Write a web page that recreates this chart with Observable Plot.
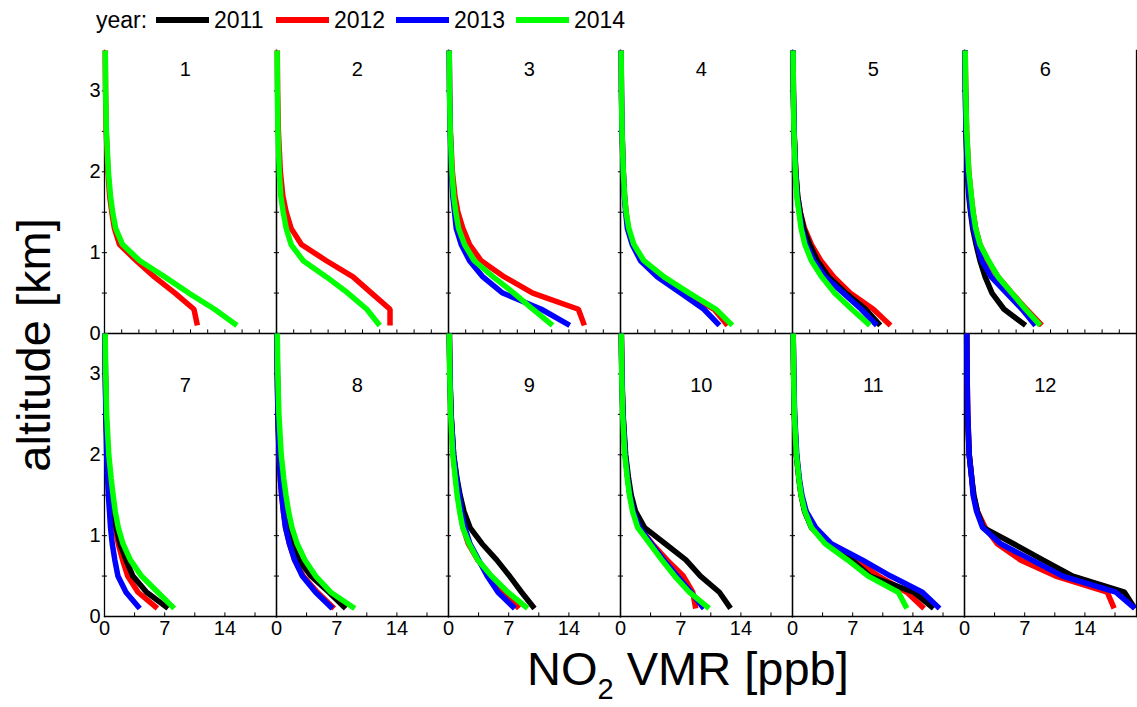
<!DOCTYPE html>
<html>
<head>
<meta charset="utf-8">
<script src="https://cdn.jsdelivr.net/npm/d3@7"></script>
<script src="https://cdn.jsdelivr.net/npm/@observablehq/plot@0.6"></script>
<style>
  html, body { margin: 0; padding: 0; background: #fff; }
  body { width: 1137px; height: 707px; overflow: hidden; font-family: "Liberation Sans", Arial, sans-serif; color: #000; }
  #legend { position: relative; width: 1137px; height: 40px; font-size: 23px; }
  #legend span { position: absolute; top: 7px; line-height: 26px; }
  #legend i { position: absolute; top: 17px; height: 6px; width: 53px; }
  #chart svg g[aria-label="x-axis tick label"],
  #chart svg g[aria-label="y-axis tick label"] { font-size: 20px !important; }
  #chart svg g[aria-label="text"] { font-size: 20px !important; }
</style>
</head>
<body>
<div id="legend"></div>
<div id="chart"></div>
<script>
// altitude levels (km)
const alts = [0.1, 0.3, 0.5, 0.7, 0.9, 1.1, 1.3, 1.5, 1.7, 2.0, 2.5, 3.0, 3.5];
const years = ["2011", "2012", "2013", "2014"];
const yearColors = ["#000000", "#ff0000", "#0000ff", "#00ff00"];
const months = [1, 2, 3, 4, 5, 6, 7, 8, 9, 10, 11, 12];
const xTickLabels = [0, 7, 14];
const yTickLabels = [0, 1, 2, 3];
const yMinorTicks = [0.5, 1, 1.5, 2, 2.5, 3];
const xMinorTicksBottom = [3.5, 7, 10.5, 14, 17.5];
const xMinorTicksTop = [2, 4, 6, 8, 10, 12, 14, 16, 18];

// NO2 VMR [ppb] per month (1..12), values at the altitude levels above; null = no profile
const no2_2011 = [
  null, null, null, null,
  [10.2, 8.5, 6.2, 4.2, 2.9, 2.0, 1.3, 0.9, 0.6, 0.38, 0.18, 0.1, 0.07],
  [7.1, 4.6, 3.2, 2.4, 1.8, 1.35, 0.95, 0.7, 0.5, 0.33, 0.17, 0.1, 0.07],
  [7.4, 4.9, 3.3, 2.5, 1.8, 1.35, 1.0, 0.75, 0.55, 0.35, 0.18, 0.1, 0.07],
  [8.05, 6.1, 4.0, 2.6, 1.8, 1.3, 0.95, 0.7, 0.5, 0.33, 0.17, 0.1, 0.07],
  [10.0, 8.5, 7.1, 5.6, 3.9, 2.5, 1.8, 1.35, 1.0, 0.6, 0.3, 0.16, 0.1],
  [12.8, 11.5, 9.3, 7.6, 5.2, 2.8, 1.75, 1.25, 0.95, 0.6, 0.3, 0.16, 0.1],
  [16.4, 14.1, 9.0, 6.9, 4.0, 2.2, 1.4, 1.0, 0.75, 0.45, 0.22, 0.13, 0.08],
  [19.8, 18.6, 12.6, 9.1, 5.7, 2.2, 1.5, 1.1, 0.85, 0.55, 0.35, 0.28, 0.25]
];
const no2_2012 = [
  [10.8, 10.4, 8.2, 5.8, 3.7, 1.75, 1.15, 0.85, 0.6, 0.4, 0.2, 0.12, 0.08],
  [13.2, 13.2, 11.05, 8.9, 5.8, 2.9, 1.7, 1.13, 0.74, 0.45, 0.22, 0.13, 0.09],
  [15.8, 15.1, 9.8, 6.5, 3.8, 2.45, 1.67, 1.1, 0.75, 0.45, 0.22, 0.13, 0.09],
  [12.45, 10.9, 7.6, 4.9, 2.5, 1.44, 0.9, 0.65, 0.48, 0.33, 0.18, 0.11, 0.07],
  [11.4, 9.4, 6.7, 4.8, 3.3, 2.2, 1.4, 0.9, 0.6, 0.38, 0.18, 0.1, 0.07],
  [9.0, 7.2, 5.5, 3.9, 2.7, 1.8, 1.3, 1.0, 0.78, 0.5, 0.25, 0.14, 0.08],
  [6.15, 3.9, 2.7, 2.1, 1.6, 1.25, 0.95, 0.7, 0.5, 0.33, 0.17, 0.1, 0.07],
  [6.7, 4.75, 3.1, 2.1, 1.5, 1.05, 0.8, 0.6, 0.45, 0.3, 0.16, 0.1, 0.07],
  [8.2, 6.4, 4.9, 3.4, 2.3, 1.7, 1.35, 1.1, 0.85, 0.55, 0.28, 0.15, 0.09],
  [8.75, 8.4, 7.3, 5.4, 3.7, 2.2, 1.5, 1.1, 0.85, 0.55, 0.28, 0.15, 0.09],
  [15.3, 13.3, 10.0, 7.2, 4.2, 2.3, 1.45, 1.0, 0.75, 0.45, 0.22, 0.13, 0.08],
  [17.4, 16.6, 10.6, 6.5, 3.8, 2.4, 1.5, 1.05, 0.85, 0.55, 0.38, 0.3, 0.27]
];
const no2_2013 = [
  null, null,
  [14.1, 10.8, 6.3, 4.0, 2.45, 1.48, 0.9, 0.7, 0.5, 0.35, 0.2, 0.12, 0.08],
  [11.5, 9.7, 7.0, 4.3, 2.33, 1.36, 0.8, 0.6, 0.45, 0.32, 0.18, 0.11, 0.07],
  [9.8, 8.0, 5.9, 3.8, 2.5, 1.6, 1.1, 0.8, 0.55, 0.35, 0.18, 0.1, 0.07],
  [8.25, 6.7, 4.9, 3.1, 2.0, 1.5, 1.05, 0.75, 0.55, 0.35, 0.18, 0.1, 0.07],
  [4.1, 2.5, 1.56, 1.2, 0.9, 0.7, 0.58, 0.45, 0.36, 0.25, 0.15, 0.1, 0.07],
  [6.5, 4.55, 3.0, 2.1, 1.5, 1.05, 0.8, 0.6, 0.45, 0.3, 0.16, 0.1, 0.07],
  [7.7, 5.76, 4.5, 3.5, 2.5, 1.9, 1.5, 1.25, 0.95, 0.6, 0.3, 0.16, 0.1],
  [9.7, 8.2, 6.6, 5.0, 3.6, 2.2, 1.5, 1.1, 0.85, 0.55, 0.28, 0.15, 0.09],
  [17.1, 15.1, 11.4, 8.1, 4.5, 2.7, 1.6, 1.1, 0.8, 0.5, 0.25, 0.14, 0.08],
  [19.8, 17.6, 11.4, 7.8, 4.2, 2.1, 1.4, 1.0, 0.85, 0.55, 0.38, 0.3, 0.27]
];
const no2_2014 = [
  [15.4, 12.8, 9.8, 7.0, 4.1, 2.1, 1.3, 0.95, 0.7, 0.45, 0.22, 0.13, 0.09],
  [12.0, 10.5, 8.3, 5.8, 3.1, 1.7, 1.13, 0.78, 0.5, 0.32, 0.17, 0.1, 0.07],
  [12.1, 9.8, 7.6, 5.2, 3.0, 1.87, 1.17, 0.85, 0.6, 0.4, 0.2, 0.12, 0.08],
  [13.0, 11.1, 8.0, 5.06, 2.72, 1.56, 0.97, 0.65, 0.48, 0.33, 0.18, 0.11, 0.07],
  [9.0, 6.9, 4.9, 3.4, 2.2, 1.44, 1.0, 0.75, 0.5, 0.33, 0.17, 0.1, 0.07],
  [8.8, 7.1, 5.5, 3.9, 2.8, 1.8, 1.3, 1.0, 0.8, 0.5, 0.25, 0.14, 0.08],
  [8.1, 6.2, 4.3, 3.0, 2.15, 1.6, 1.25, 1.0, 0.78, 0.5, 0.25, 0.14, 0.08],
  [9.1, 6.3, 4.55, 3.3, 2.4, 1.8, 1.4, 1.1, 0.85, 0.55, 0.28, 0.15, 0.09],
  [9.2, 6.9, 5.0, 3.4, 2.4, 1.65, 1.3, 1.0, 0.8, 0.5, 0.25, 0.14, 0.08],
  [10.3, 8.0, 6.3, 4.8, 3.4, 2.0, 1.4, 1.05, 0.8, 0.5, 0.25, 0.14, 0.08],
  [13.3, 12.3, 8.8, 6.4, 3.8, 2.2, 1.44, 1.0, 0.75, 0.45, 0.22, 0.13, 0.08],
  null
];

// ----- build table (draw order: 2012, 2011, 2013, 2014)
const series = {"2011": no2_2011, "2012": no2_2012, "2013": no2_2013, "2014": no2_2014};
const drawOrder = ["2012", "2011", "2013", "2014"];
const rows = [];
for (const yr of drawOrder) {
  series[yr].forEach((prof, i) => {
    if (!prof) return;
    prof.forEach((v, k) => rows.push({year: yr, month: months[i], col: i % 6, row: Math.floor(i / 6), alt: alts[k], v}));
  });
}
const panels = months.map((m, i) => ({m, col: i % 6, row: Math.floor(i / 6)}));
const topTicks = xMinorTicksTop.map(v => ({v, row: 0}));
const botTicks = xMinorTicksBottom.map(v => ({v, row: 1}));

// ----- legend
const legend = document.getElementById("legend");
legend.innerHTML = `<span style="left:96px">year:</span>` +
  years.map((y, i) => `<i style="left:${156 + 120 * i}px;background:${yearColors[i]}"></i><span style="left:${214 + 120 * i}px">${y}</span>`).join("");

const FONT = '"Liberation Sans", Arial, sans-serif';

const chart = Plot.plot({
  width: 1137,
  height: 667,
  marginLeft: 103,
  marginRight: 1,
  marginTop: 10,
  marginBottom: 91,
  style: {fontFamily: FONT, color: "#000", background: "#fff", overflow: "visible"},
  x: {domain: [0, 20]},
  y: {domain: [0, 3.5]},
  fx: {domain: [0, 1, 2, 3, 4, 5], padding: 0, axis: null},
  fy: {domain: [0, 1], padding: 0, axis: null},
  color: {domain: years, range: yearColors},
  marks: [
    Plot.frame({anchor: "left", stroke: "#000", strokeWidth: 1.3}),
    Plot.frame({anchor: "right", stroke: "#000", strokeWidth: 1.3}),
    Plot.frame({anchor: "bottom", stroke: "#000", strokeWidth: 1.3}),
    Plot.ruleY(yMinorTicks, {y: d => d, x1: () => -0.25, x2: () => 0.35, stroke: "#000", strokeWidth: 1}),
    Plot.ruleX(topTicks, {x: "v", y1: () => 0, y2: () => 0.045, fy: "row", stroke: "#000", strokeWidth: 1}),
    Plot.ruleX(botTicks, {x: "v", y1: () => 0, y2: () => 0.045, fy: "row", stroke: "#000", strokeWidth: 1}),
    Plot.axisX({ticks: xTickLabels, tickFormat: d => String(d), tickSize: 0, tickPadding: 4, fontSize: 20, label: null}),
    Plot.axisY({ticks: yTickLabels, tickFormat: d => String(d), tickSize: 0, tickPadding: 4, fontSize: 20, label: null}),
    Plot.line(rows, {x: "v", y: "alt", z: "year", stroke: "year", fx: "col", fy: "row",
      strokeWidth: 5.5, strokeLinejoin: "miter", strokeLinecap: "butt", curve: "linear"}),
    Plot.text(panels, {x: () => 9.4, y: d => d.row === 0 ? 3.27 : 2.85, text: "m", fx: "col", fy: "row",
      fontSize: 20, fill: "#000"})
  ]
});
document.getElementById("chart").appendChild(chart);

const svg = d3.select(chart);
// y title
svg.append("text")
  .attr("transform", "translate(50,305) rotate(-90)")
  .attr("text-anchor", "middle")
  .attr("font-family", FONT)
  .attr("font-size", 47)
  .attr("fill", "#000")
  .text("altitude [km]");
// x title with subscript
const xt = svg.append("text")
  .attr("x", 527).attr("y", 645)
  .attr("text-anchor", "start")
  .attr("font-family", FONT)
  .attr("font-size", 47)
  .attr("fill", "#000");
xt.append("tspan").text("NO");
xt.append("tspan").attr("font-size", 29).attr("dy", 14).text("2");
xt.append("tspan").attr("dy", -14).text(" VMR [ppb]");
</script>
</body>
</html>
